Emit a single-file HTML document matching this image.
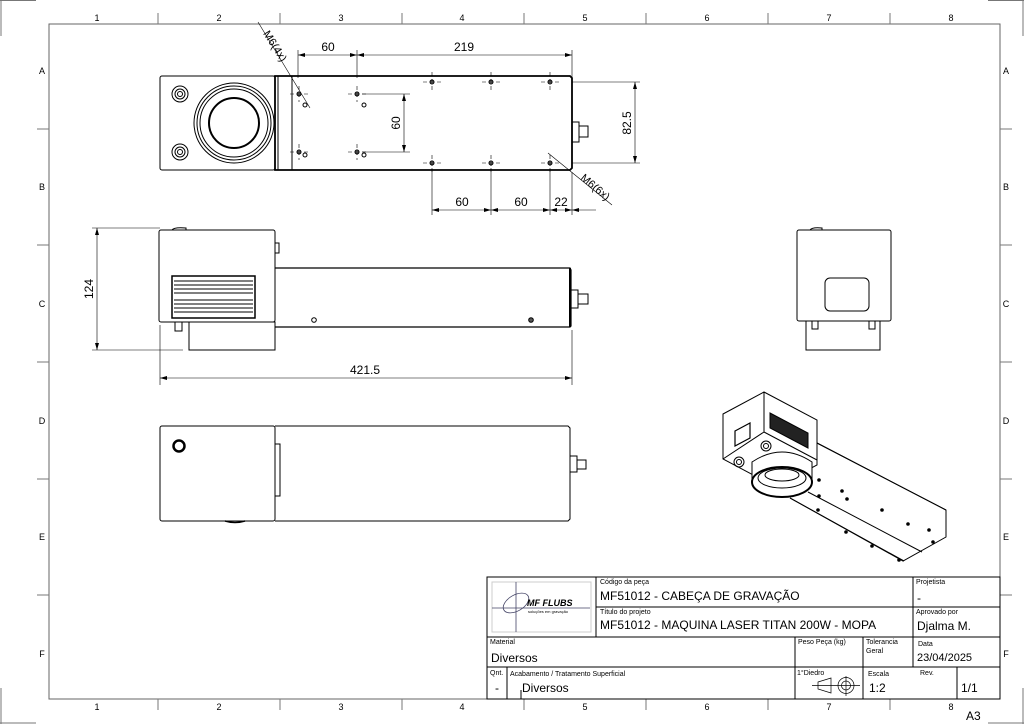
<!DOCTYPE html>
<html><head><meta charset="utf-8"><style>
html,body{margin:0;padding:0;background:#fff}
svg{display:block}
text{font-family:"Liberation Sans",sans-serif;fill:#000}
</style></head><body>
<svg width="1024" height="724" viewBox="0 0 1024 724" xmlns="http://www.w3.org/2000/svg">
<g fill="none" stroke="#777" stroke-width="1">
<path d="M0 0.5H36M1 0V36M988 0.5H1024M1023 0V36M1 688V724M0 723H36M988 723H1024M1023 688V724"/>
<rect x="49" y="24" width="951" height="675" stroke="#666"/>
<path d="M158 13V24M280 13V24M402 13V24M524 13V24M646 13V24M768 13V24M890 13V24"/>
<path d="M158 699V710M280 699V710M402 699V710M524 699V710M646 699V710M768 699V710M890 699V710"/>
<path d="M37 129H49M37 245H49M37 362H49M37 479H49M37 595H49"/>
<path d="M1000 129H1012M1000 245H1012M1000 362H1012M1000 479H1012M1000 595H1012"/>
</g>
<g font-size="9" text-anchor="middle">
<text x="97" y="21">1</text><text x="219" y="21">2</text><text x="341" y="21">3</text><text x="462" y="21">4</text><text x="585" y="21">5</text><text x="707" y="21">6</text><text x="829" y="21">7</text><text x="951" y="21">8</text>
<text x="97" y="710">1</text><text x="219" y="710">2</text><text x="341" y="710">3</text><text x="462" y="710">4</text><text x="585" y="710">5</text><text x="707" y="710">6</text><text x="829" y="710">7</text><text x="951" y="710">8</text>
<text x="42" y="74">A</text><text x="42" y="190">B</text><text x="42" y="307">C</text><text x="42" y="424">D</text><text x="42" y="540">E</text><text x="42" y="657">F</text>
<text x="1006" y="74">A</text><text x="1006" y="190">B</text><text x="1006" y="307">C</text><text x="1006" y="424">D</text><text x="1006" y="540">E</text><text x="1006" y="657">F</text>
</g>
<text x="966" y="720" font-size="12">A3</text>

<!-- TOP VIEW -->
<g fill="none" stroke="#000" stroke-width="1">
<rect x="160" y="76" width="115" height="94" rx="2"/>
<circle cx="234" cy="123" r="40"/><circle cx="234" cy="123" r="37"/><circle cx="234" cy="123" r="34"/><circle cx="234" cy="123" r="25" stroke-width="2"/>
<circle cx="180" cy="94" r="8"/><circle cx="180" cy="94" r="5"/><circle cx="180" cy="94" r="2.5"/>
<circle cx="180" cy="152" r="8"/><circle cx="180" cy="152" r="5"/><circle cx="180" cy="152" r="2.5"/>
<path d="M275 76H570L572 78V168L570 170H275Z" stroke-width="1.8"/>
<path d="M278 76V170M292 76V170"/>
<rect x="572" y="122" width="7" height="20"/><rect x="579" y="126" width="9" height="11"/>
<circle cx="299" cy="94" r="2" fill="#888"/><circle cx="357" cy="94" r="2" fill="#888"/><circle cx="299" cy="152" r="2" fill="#888"/><circle cx="357" cy="152" r="2" fill="#888"/>
<circle cx="305" cy="105" r="2"/><circle cx="364" cy="105" r="2"/><circle cx="305" cy="155" r="2"/><circle cx="364" cy="155" r="2"/>
<circle cx="432" cy="82" r="2" fill="#888"/><circle cx="491" cy="82" r="2" fill="#888"/><circle cx="550" cy="82" r="2" fill="#888"/>
<circle cx="432" cy="163" r="2" fill="#888"/><circle cx="491" cy="163" r="2" fill="#888"/><circle cx="550" cy="163" r="2" fill="#888"/>
</g>
<g fill="none" stroke="#000" stroke-width="0.6">
<path d="M290 94H308M290 152H308M348 94H366M348 152H366M299 86V102M299 144V160M357 86V102M357 144V160" stroke-dasharray="4 3"/>
<path d="M423 82H441M482 82H500M541 82H559M423 163H441M482 163H500M541 163H559M432 72V90M491 72V90M550 72V90M432 155V172M491 155V172M550 155V172" stroke-dasharray="4 3"/>
<path d="M298 78V50M357 78V50M572 78V50M298 55H572"/>
<path d="M362 94H410M362 152H410M404 94V152"/>
<path d="M572 82H640M572 163H640M635 82V163"/>
<path d="M432 168V215M491 168V215M550 168V215M572 172V215M432 210H596"/>
<path d="M258 22L310 108M548 153L612 205"/>
</g>
<g fill="#000">
<path d="M298 55l7-2v4zM357 55l-7-2v4zM357 55l7-2v4zM572 55l-7-2v4z"/>
<path d="M404 94l-2 7h4zM404 152l-2-7h4zM635 82l-2 7h4zM635 163l-2-7h4z"/>
<path d="M432 210l7-2v4zM491 210l-7-2v4zM491 210l7-2v4zM550 210l-7-2v4zM550 210l7-2v4zM572 210l-7-2v4zM572 210l7-2v4z"/>
</g>
<g font-size="12" text-anchor="middle">
<text x="328" y="51">60</text><text x="464" y="51">219</text>
<text x="462" y="206">60</text><text x="521" y="206">60</text><text x="561" y="206">22</text>
<text transform="translate(400 123) rotate(-90)">60</text>
<text transform="translate(631 123) rotate(-90)">82.5</text>
<text transform="translate(272 48) rotate(58)" font-size="11">M6(4x)</text>
<text transform="translate(593 190) rotate(40)" font-size="11">M6(6x)</text>
</g>

<!-- SIDE VIEW -->
<g fill="none" stroke="#000" stroke-width="1">
<rect x="159" y="230" width="116" height="92" rx="2"/>
<path d="M172 230Q174 227 186 228V230"/>
<rect x="275" y="243" width="4" height="10"/>
<rect x="172" y="276" width="83" height="42" stroke-width="1.5"/>
<path d="M174 281H253M174 285H253M174 289H253M174 293H253M174 300H253M174 304H253M174 308H253M174 312H253"/>
<rect x="175" y="322" width="7" height="9"/>
<rect x="189" y="322" width="86" height="28"/>
<path d="M275 268H570L571 270V326L570 327H275" stroke-width="1.2"/>
<path d="M570 268V327" stroke-width="2"/>
<rect x="571" y="290" width="7" height="18"/><rect x="578" y="294" width="10" height="10"/>
<circle cx="314" cy="320" r="2.3"/><circle cx="531" cy="320" r="2.3" fill="#555"/>
</g>
<g fill="none" stroke="#000" stroke-width="0.6">
<path d="M92 228H160M92 350H183M97 228V350M160 325V385M572 330V385M160 378H572"/>
</g>
<g fill="#000"><path d="M97 228l-2 7h4zM97 350l-2-7h4zM160 378l7-2v4zM572 378l-7-2v4z"/></g>
<text x="365" y="374" font-size="12" text-anchor="middle">421.5</text>
<text transform="translate(93 289) rotate(-90)" font-size="12" text-anchor="middle">124</text>

<!-- FRONT VIEW -->
<g fill="none" stroke="#000" stroke-width="1">
<rect x="160" y="426" width="115" height="95" rx="2"/>
<path d="M275 426H568L570 428V519L568 521H275"/>
<rect x="275" y="444" width="5" height="52"/>
<circle cx="179" cy="446" r="5.5" stroke-width="2.5"/>
<path d="M225 521Q235 524 245 521" stroke-width="1.5"/>
<rect x="570" y="456" width="7" height="16"/><rect x="577" y="460" width="9" height="9"/>
</g>

<!-- RIGHT VIEW -->
<g fill="none" stroke="#000" stroke-width="1">
<rect x="797" y="230" width="94" height="91" rx="2"/>
<path d="M810 230Q812 227 822 228V230"/>
<rect x="825" y="278" width="44" height="33" rx="5"/>
<rect x="806" y="321" width="74" height="29"/>
<rect x="812" y="321" width="6" height="8"/><rect x="869" y="321" width="6" height="8"/>
</g>

<!-- ISO VIEW -->
<g fill="none" stroke="#000" stroke-width="1">
<path d="M723 414L764 392L817 420L817 465L776 487L723 459Z"/>
<path d="M764 392V432M764 432L723 459M764 432L817 460"/>
<path d="M735 431L750 423V438L735 446Z" stroke-width="1.2"/>
<path d="M770 413L808 433V448L770 428Z" fill="#222"/>
<path d="M817 443L946 510V537L903 561L790 498"/>
<path d="M817 443L946 510M808 492L922 552M790 498L904 561"/>
<path d="M752 482V462Q782 440 812 462V482Z" fill="#fff" stroke="none"/>
<path d="M752 482V462Q782 442 812 462V482"/>
<ellipse cx="782" cy="482" rx="30" ry="15" fill="#fff" stroke-width="2"/>
<ellipse cx="782" cy="478" rx="24" ry="10"/><ellipse cx="782" cy="475" rx="17" ry="6"/>
<circle cx="739" cy="462" r="5"/><circle cx="739" cy="462" r="2.5"/>
<circle cx="766" cy="446" r="5"/><circle cx="766" cy="446" r="2.5"/>
<circle cx="819" cy="480" r="1.3" fill="#000"/><circle cx="842" cy="491" r="1.3" fill="#000"/><circle cx="819" cy="496" r="1.3" fill="#000"/><circle cx="847" cy="499" r="1.3" fill="#000"/>
<circle cx="882" cy="510" r="1.3" fill="#000"/><circle cx="908" cy="524" r="1.3" fill="#000"/><circle cx="929" cy="530" r="1.3" fill="#000"/>
<circle cx="818" cy="510" r="1.3" fill="#000"/><circle cx="846" cy="532" r="1.3" fill="#000"/><circle cx="872" cy="546" r="1.3" fill="#000"/><circle cx="899" cy="560" r="1.3" fill="#000"/><circle cx="933" cy="542" r="1.3" fill="#000"/>
</g>

<!-- TITLE BLOCK -->
<g fill="none" stroke="#000" stroke-width="1">
<rect x="487" y="577" width="513" height="122"/>
<path d="M596 577V637M596 607H913M913 577V667M913 607H1000M487 637H1000M487 667H1000M795 637V699M863 637V699M507 667V699M957 667V699M521 690V699"/>
<rect x="492" y="582" width="99" height="50" stroke="#ccc"/>
</g>
<g stroke="#446" fill="none" stroke-width="0.8">
<path d="M516 582V632M492 608H590"/>
<ellipse cx="516" cy="603" rx="14" ry="8" transform="rotate(-30 516 603)"/>
</g>
<text x="527" y="606" font-size="9" font-style="italic" font-weight="bold" fill="#345">MF FLUBS</text>
<text x="528" y="613" font-size="4" fill="#345">soluções em gravação</text>
<g font-size="7">
<text x="600" y="584">Código da peça</text><text x="600" y="614">Título do projeto</text>
<text x="916" y="584">Projetista</text><text x="916" y="614">Aprovado por</text>
<text x="490" y="644">Material</text><text x="798" y="644">Peso Peça (kg)</text>
<text x="866" y="644">Tolerancia</text><text x="866" y="653">Geral</text><text x="918" y="646">Data</text>
<text x="490" y="675">Qnt.</text><text x="510" y="676">Acabamento / Tratamento Superficial</text>
<text x="797" y="675">1°Diedro</text><text x="868" y="676">Escala</text><text x="920" y="675">Rev.</text>
</g>
<g font-size="12">
<text x="600" y="600">MF51012 - CABEÇA DE GRAVAÇÃO</text>
<text x="600" y="629">MF51012 - MAQUINA LASER TITAN 200W - MOPA</text>
<text x="917" y="602">-</text><text x="917" y="630">Djalma M.</text>
<text x="491" y="662">Diversos</text><text x="917" y="661" font-size="11">23/04/2025</text>
<text x="495" y="692">-</text><text x="522" y="692">Diversos</text>
<text x="869" y="692">1:2</text><text x="961" y="692">1/1</text>
</g>
<g fill="none" stroke="#000" stroke-width="0.7">
<path d="M818 682L831 678V693L818 689Z"/><path d="M812 685.5H860M846 676V696"/>
<circle cx="846" cy="685.5" r="8"/><circle cx="846" cy="685.5" r="4.5"/>
</g>
</svg>
</body></html>
